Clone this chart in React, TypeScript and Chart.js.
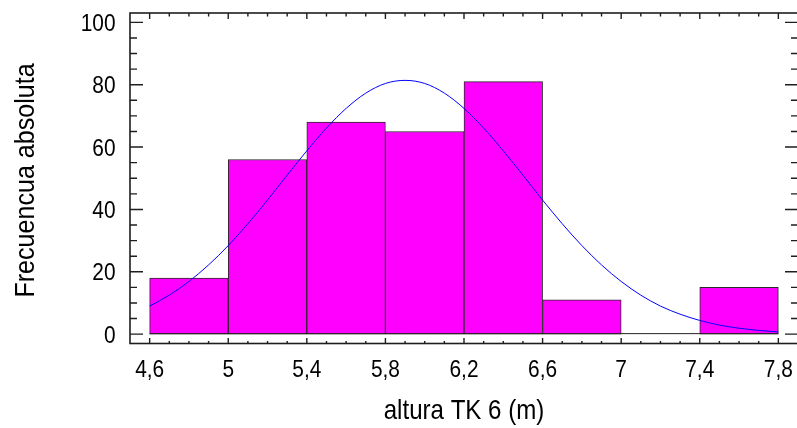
import { useEffect, useRef } from 'react';
import { Chart, registerables } from 'chart.js';

Chart.register(...registerables);

// ---- data ----
const BIN_EDGES = [4.6, 5.0, 5.4, 5.8, 6.2, 6.6, 7.0, 7.4, 7.8];
const FREQUENCIES = [18, 56, 68, 65, 81, 11, 0, 15];

const CURVE_X = [
  4.6, 4.7, 4.8, 4.9, 5.0, 5.1, 5.2, 5.3, 5.4, 5.5, 5.6, 5.7, 5.8, 5.9, 6.0, 6.1, 6.2,
  6.3, 6.4, 6.5, 6.6, 6.7, 6.8, 6.9, 7.0, 7.1, 7.2, 7.3, 7.4, 7.5, 7.6, 7.7, 7.8,
];
const CURVE_Y = [
  9.0, 12.5, 16.9, 22.2, 28.4, 35.4, 43.0, 51.0, 58.8, 66.1, 72.4, 77.3, 80.4, 81.4, 80.4, 77.3, 72.4,
  66.1, 58.8, 51.0, 43.0, 35.4, 28.4, 22.2, 16.9, 12.5, 9.0, 6.4, 4.4, 2.9, 1.9, 1.2, 0.7,
];

const X_TICKS = [4.6, 5.0, 5.4, 5.8, 6.2, 6.6, 7.0, 7.4, 7.8];
const X_TICK_LABELS = ['4,6', '5', '5,4', '5,8', '6,2', '6,6', '7', '7,4', '7,8'];
const Y_TICKS = [0, 20, 40, 60, 80, 100];
const Y_TICK_LABELS = ['0', '20', '40', '60', '80', '100'];

const X_TITLE = 'altura TK 6 (m)';
const Y_TITLE = 'Frecuencua absoluta';

const FONT = '"Liberation Sans", Arial, sans-serif';

function drawText(
  ctx: CanvasRenderingContext2D,
  text: string,
  x: number,
  y: number,
  size: number,
  sx: number,
  align: CanvasTextAlign,
  rotate = false,
) {
  ctx.save();
  ctx.translate(x, y);
  if (rotate) ctx.rotate(-Math.PI / 2);
  ctx.scale(sx, 1);
  ctx.font = `${size}px ${FONT}`;
  ctx.fillStyle = '#000';
  ctx.textAlign = align;
  ctx.textBaseline = 'alphabetic';
  ctx.fillText(text, 0, 0);
  ctx.restore();
}

const framePlugin = {
  id: 'frameTicks',
  afterDatasetsDraw(chart: any) {
    const { ctx, scales } = chart;
    const xs = scales.x;
    const ys = scales.y;
    const y0 = ys.getPixelForValue(0);
    ctx.save();
    ctx.strokeStyle = '#222';
    ctx.lineWidth = 1;
    ctx.beginPath();
    ctx.moveTo(xs.getPixelForValue(BIN_EDGES[0]), y0 - 0.5);
    ctx.lineTo(xs.getPixelForValue(BIN_EDGES[BIN_EDGES.length - 1]), y0 - 0.5);
    ctx.stroke();
    ctx.restore();
  },
  afterDraw(chart: any) {
    const { ctx, chartArea: a, scales } = chart;
    const xs = scales.x;
    const ys = scales.y;
    ctx.save();
    ctx.strokeStyle = '#1e1e1e';
    ctx.lineWidth = 1.6;
    ctx.strokeRect(a.left, a.top, a.right - a.left, a.bottom - a.top);

    ctx.beginPath();
    // y ticks (left and right, pointing inward)
    for (let i = 0; i <= 20; i++) {
      const v = i * 5;
      const p = ys.getPixelForValue(v);
      const len = i % 4 === 0 ? 13 : 7;
      ctx.moveTo(a.left, p);
      ctx.lineTo(a.left + len, p);
      ctx.moveTo(a.right, p);
      ctx.lineTo(a.right - len, p);
    }
    // x ticks (top and bottom, pointing inward)
    for (let i = 1; i <= 33; i++) {
      const v = 4.5 + i * 0.1;
      const p = xs.getPixelForValue(v);
      const major = (i - 1) % 4 === 0;
      ctx.moveTo(p, a.top);
      ctx.lineTo(p, a.top + (major ? 6 : 3.5));
      ctx.moveTo(p, a.bottom);
      ctx.lineTo(p, a.bottom - (major ? 5.5 : 2.5));
    }
    ctx.lineWidth = 1.4;
    ctx.stroke();
    ctx.restore();

    // tick labels
    Y_TICKS.forEach((v, i) => {
      drawText(ctx, Y_TICK_LABELS[i], 115.5, ys.getPixelForValue(v) + 8.5, 24, 0.87, 'right');
    });
    X_TICKS.forEach((v, i) => {
      drawText(ctx, X_TICK_LABELS[i], xs.getPixelForValue(v), 377, 24, 0.87, 'center');
    });
    // axis titles
    drawText(ctx, X_TITLE, 464, 419, 28, 0.86, 'center');
    drawText(ctx, Y_TITLE, 33.5, 180.5, 28.5, 0.88, 'center', true);
  },
};

export default function App() {
  const canvasRef = useRef<HTMLCanvasElement | null>(null);

  useEffect(() => {
    const canvas = canvasRef.current;
    if (!canvas) return;
    const centers = FREQUENCIES.map((_, i) => (BIN_EDGES[i] + BIN_EDGES[i + 1]) / 2);
    const chart = new Chart(canvas, {
      type: 'bar',
      data: {
        datasets: [
          {
            type: 'line',
            data: CURVE_X.map((x, i) => ({ x, y: CURVE_Y[i] })),
            borderColor: '#0000ff',
            borderWidth: 1,
            pointRadius: 0,
            cubicInterpolationMode: 'monotone',
            fill: false,
            order: 1,
          } as any,
          {
            type: 'bar',
            data: centers.map((x, i) => ({ x, y: FREQUENCIES[i] })),
            backgroundColor: '#ff00ff',
            borderColor: '#2a2a2a',
            borderWidth: 1,
            borderSkipped: false,
            barPercentage: 1,
            categoryPercentage: 1,
            order: 2,
          } as any,
        ],
      },
      options: {
        animation: false,
        responsive: false,
        devicePixelRatio: 1,
        layout: { padding: { top: 13, right: 2, left: 0, bottom: 0 } },
        plugins: { legend: { display: false }, tooltip: { enabled: false } },
        scales: {
          x: {
            type: 'linear',
            min: 4.5,
            max: 7.9,
            offset: false,
            grid: { display: false, drawTicks: false, offset: false },
            border: { display: false },
            ticks: { display: false },
            afterFit: (s: any) => {
              s.height = 84.5;
            },
          },
          y: {
            type: 'linear',
            min: -3,
            max: 103,
            grid: { display: false, drawTicks: false },
            border: { display: false },
            ticks: { display: false },
            afterFit: (s: any) => {
              s.width = 130;
            },
          },
        },
      } as any,
      plugins: [framePlugin],
    });
    return () => chart.destroy();
  }, []);

  return (
    <div
      style={{
        position: 'fixed',
        left: 0,
        top: 0,
        width: 797,
        height: 428,
        overflow: 'hidden',
        background: '#fff',
      }}
    >
      <canvas ref={canvasRef} width={800} height={428} style={{ display: 'block' }} />
    </div>
  );
}
